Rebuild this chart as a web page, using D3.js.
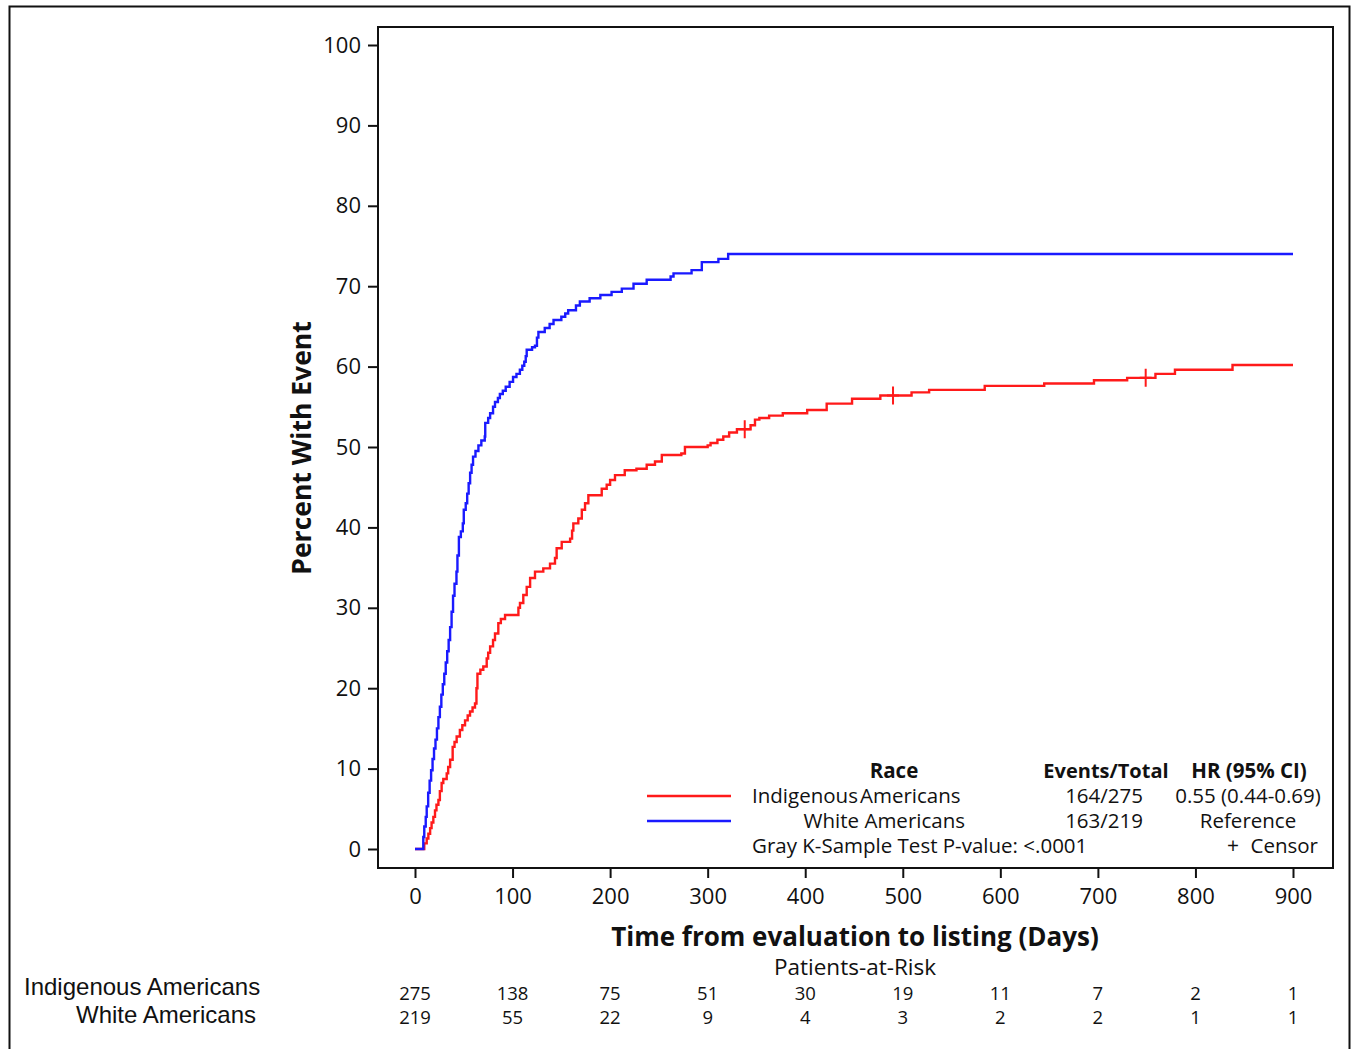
<!DOCTYPE html>
<html>
<head>
<meta charset="utf-8">
<script src="https://cdn.jsdelivr.net/npm/d3@7"></script>
<style>
  body { margin: 0; background: #fff; }
  text { font-family: "Open Sans", sans-serif; fill: #111; }
</style>
</head>
<body>
<div id="chart-area"></div>
<script>
//DATA-------------------------------------------------------------------------
const groups = ["Indigenous Americans", "White Americans"]
const colors = ["#ff1a1a", "#1a1aff"]

// cumulative incidence steps: [day, percent]
const redSteps = [[0,0],[9.5,0.7],[12,1.3],[13.7,1.9],[15.5,2.6],[17,3.3],[18.8,4.0],[20.5,4.8],[22,5.5],[24,6.1],
  [25.5,7.2],[27.3,8.2],[29,8.7],[32.5,9.4],[34,10.2],[36,11.1],[38.6,12.7],[40.5,13.3],[42.7,14.0],[46,14.8],
  [48.5,15.4],[51.3,16.0],[54,16.6],[56.4,17.1],[59,17.6],[61.5,18.1],[63,20.0],[64,21.8],[67,22.3],[70,22.7],
  [73.5,23.7],[75,24.4],[77,25.2],[80,26.0],[82,26.8],[85.4,28.1],[88,28.6],[92.3,29.1],[106,30.0],[107.6,30.6],
  [111,31.6],[114.5,32.6],[118,33.7],[123,34.5],[131.5,34.9],[138.4,35.5],[143.5,36.2],[145.2,37.4],[150.4,38.2],
  [159,38.6],[161,39.6],[162.3,40.5],[167.4,41.1],[171,42.2],[174.3,43.0],[177.7,44.0],[191.4,44.8],[196.5,45.3],
  [200,45.9],[205,46.5],[215,47.1],[227,47.3],[237.5,47.8],[246,48.2],[253,49.0],[273,49.2],[276.7,50.0],
  [300,50.2],[303,50.5],[310,50.9],[316,51.3],[322,51.8],[330,52.2],[344,52.7],[348.5,53.4],[353,53.6],
  [363,53.9],[377,54.2],[402,54.6],[422,55.4],[448,56.0],[477,56.4],[509,56.8],[527,57.1],[584,57.6],
  [645,57.9],[696,58.3],[730,58.6],[759,59.1],[779,59.6],[838,60.2],[900,60.2]]

const blueSteps = [[0,0],[8.5,1.5],[9.5,2.8],[11,4.0],[12,5.3],[13.5,7.0],[15,8.5],[16.5,9.8],[18,11.2],[19.5,12.5],
  [21,13.6],[22.5,15.0],[24,16.4],[25.5,17.7],[27,19.2],[28.5,20.5],[30,21.8],[31.5,23.2],[33,24.6],[34.5,26.0],
  [36,27.6],[37.5,29.5],[39,31.5],[40.5,33.0],[42.5,34.5],[43.5,36.5],[45,38.8],[47,39.5],[49,40.5],[50,42.2],
  [52,43.0],[53.5,44.2],[55,45.5],[56.5,46.8],[58,47.8],[59.5,48.8],[62,49.5],[65,50.2],[68,50.8],[71.5,51.3],
  [72,53.0],[75,53.6],[77,54.2],[80,55.0],[82,55.6],[85,56.1],[87,56.6],[90,57.0],[93,57.5],[97,58.1],
  [100.5,58.7],[104,59.1],[107.5,59.6],[110,60.1],[112,60.6],[113.5,61.3],[114.5,62.1],[120,62.4],[123,62.6],
  [125,63.6],[126.5,64.3],[133,64.8],[138,65.3],[142,65.8],[150,66.2],[154,66.6],[157,67.0],[165,67.6],
  [169,68.1],[179,68.5],[190,68.9],[201.5,69.3],[212,69.7],[224,70.3],[237.5,70.8],[262,71.2],[265,71.6],
  [283.5,72.0],[294,73.0],[311,73.4],[321,74.0],[900,74.0]]

const redCensor = [[338,52.2],[490,56.4],[749,58.6]]

const xTicks = [0,100,200,300,400,500,600,700,800,900]
const yTicks = [0,10,20,30,40,50,60,70,80,90,100]
const atRiskRed  = [275,138,75,51,30,19,11,7,2,1]
const atRiskBlue = [219,55,22,9,4,3,2,2,1,1]

const legendEvents = ["164/275", "163/219"]
const legendHR = ["0.55 (0.44-0.69)", "Reference"]

//SETUP------------------------------------------------------------------------
const W = 1354, H = 1049
const FRAME = { LEFT: 378, RIGHT: 1333, TOP: 27, BOTTOM: 868 }

const svg = d3.select("#chart-area").append("svg")
  .attr("width", W).attr("height", H)

// outer border
svg.append("rect")
  .attr("x", 9.5).attr("y", 6.5).attr("width", 1340).attr("height", 1100)
  .attr("fill", "none").attr("stroke", "#111").attr("stroke-width", 2)

const xScale = d3.scaleLinear().domain([0, 900]).range([415, 1293])
const yScale = d3.scaleLinear().domain([0, 100]).range([849, 45])

function txt(x, y, s, size, anchor, weight, family) {
  return svg.append("text")
    .attr("x", x).attr("y", y)
    .attr("text-anchor", anchor || "start")
    .attr("font-size", size)
    .attr("font-weight", weight || "normal")
    .style("font-family", family || null)
    .text(s)
}

//AXES-------------------------------------------------------------------------
const yAxis = d3.axisLeft(yScale).tickValues(yTicks).tickSize(10).tickPadding(7)
const gY = svg.append("g").attr("transform", `translate(${FRAME.LEFT},0)`).call(yAxis)
gY.select(".domain").remove()
gY.selectAll("line").attr("stroke", "#111").attr("stroke-width", 2)
gY.selectAll("text").attr("font-size", 22).attr("fill", "#111")
  .style("font-family", '"Open Sans", sans-serif')

const xAxis = d3.axisBottom(xScale).tickValues(xTicks).tickSize(10).tickPadding(10)
const gX = svg.append("g").attr("transform", `translate(0,${FRAME.BOTTOM})`).call(xAxis)
gX.select(".domain").remove()
gX.selectAll("line").attr("stroke", "#111").attr("stroke-width", 2)
gX.selectAll("text").attr("font-size", 22).attr("fill", "#111")
  .style("font-family", '"Open Sans", sans-serif')

// frame
svg.append("rect")
  .attr("x", FRAME.LEFT).attr("y", FRAME.TOP)
  .attr("width", FRAME.RIGHT - FRAME.LEFT).attr("height", FRAME.BOTTOM - FRAME.TOP)
  .attr("fill", "none").attr("stroke", "#111").attr("stroke-width", 2)

// axis titles
svg.append("text")
  .attr("transform", "translate(311,448) rotate(-90)")
  .attr("text-anchor", "middle").attr("font-size", 26.5).attr("font-weight", "bold")
  .text("Percent With Event")
txt(855, 946, "Time from evaluation to listing (Days)", 26, "middle", "bold")

//CURVES-----------------------------------------------------------------------
const line = d3.line()
  .x(d => xScale(d[0]))
  .y(d => yScale(d[1]))
  .curve(d3.curveStepAfter)

;[redSteps, blueSteps].forEach((steps, i) => {
  svg.append("path")
    .datum(steps)
    .attr("d", line)
    .attr("fill", "none")
    .attr("stroke", colors[i])
    .attr("stroke-width", 2.4)
})

// censor marks
svg.selectAll(".censor").data(redCensor).enter().append("path")
  .attr("class", "censor")
  .attr("d", d => {
    const cx = xScale(d[0]), cy = yScale(d[1])
    return `M${cx - 6},${cy}H${cx + 6}M${cx},${cy - 9}V${cy + 9}`
  })
  .attr("stroke", colors[0]).attr("stroke-width", 2)

//LEGEND-----------------------------------------------------------------------
const LF = 20.5
txt(894, 778, "Race", LF, "middle", "bold")
txt(1106, 778, "Events/Total", 20, "middle", "bold")
txt(1249, 778, "HR (95% CI)", LF, "middle", "bold")
const legY = [803, 828]
groups.forEach((g, i) => {
  svg.append("line")
    .attr("x1", 647).attr("x2", 731)
    .attr("y1", legY[i] - 7).attr("y2", legY[i] - 7)
    .attr("stroke", colors[i]).attr("stroke-width", 2.4)
  txt(i === 0 ? 752 : 965, legY[i], i === 0 ? "Indigenous\u200AAmericans" : g, LF, i === 0 ? "start" : "end")
  txt(1143, legY[i], legendEvents[i], LF, "end")
  txt(1248, legY[i], legendHR[i], LF, "middle")
})
txt(752, 853, "Gray K-Sample Test P-value: <.0001", LF, "start")
txt(1233, 853, "+", 21, "middle")
txt(1318, 853, "Censor", LF, "end")

//PATIENTS AT RISK-------------------------------------------------------------
txt(855, 975, "Patients-at-Risk", 22.5, "middle")
;[atRiskRed, atRiskBlue].forEach((row, i) => {
  const y = 1000 + i * 24
  row.forEach((n, j) => txt(xScale(xTicks[j]), y, n, 18.5, "middle"))
})
txt(24, 995, groups[0], 24, "start", "normal", '"Liberation Sans", Arial, sans-serif')
txt(76, 1023, groups[1], 24, "start", "normal", '"Liberation Sans", Arial, sans-serif')
</script>
</body>
</html>
